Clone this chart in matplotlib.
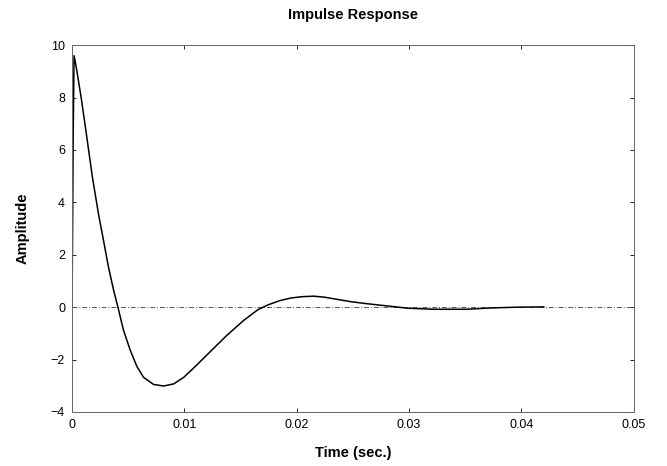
import matplotlib
matplotlib.use("Agg")
import matplotlib.pyplot as plt

# values
time = [0, 0.00005, 0.0001, 0.00018, 0.0004, 0.00083, 0.00128, 0.0018,
        0.00235, 0.0028, 0.00324, 0.0037, 0.00408, 0.00458, 0.00518,
        0.00578, 0.00637, 0.00726, 0.00815, 0.00905, 0.00994, 0.0111,
        0.0123, 0.0138, 0.0153, 0.0165, 0.0174, 0.0185, 0.0195, 0.0205,
        0.0215, 0.0225, 0.0233, 0.0248, 0.0263, 0.0284, 0.0299, 0.0322,
        0.0352, 0.0373, 0.0397, 0.0420]
amplitude = [0, 3.0, 6.5, 9.6, 9.1, 7.95, 6.6, 5.0,
             3.57, 2.55, 1.54, 0.65, 0.01, -0.88, -1.64,
             -2.27, -2.68, -2.95, -3.01, -2.93, -2.68, -2.21,
             -1.70, -1.07, -0.50, -0.11, 0.08, 0.25, 0.35, 0.40,
             0.42, 0.38, 0.32, 0.21, 0.13, 0.03, -0.04, -0.08,
             -0.08, -0.03, 0.0, 0.01]

xticks = [0, 0.01, 0.02, 0.03, 0.04, 0.05]
xticklabels = ["0", "0.01", "0.02", "0.03", "0.04", "0.05"]
yticks = [-4, -2, 0, 2, 4, 6, 8, 10]

plt.rcParams["font.family"] = ["Liberation Sans", "DejaVu Sans"]

fig = plt.figure(figsize=(6.67, 4.66), dpi=100)
ax = fig.add_axes([0.108, 0.116, 0.842, 0.787])

ax.axhline(0, color="#555555", linewidth=0.7, linestyle=(0, (5, 2, 1, 2)))
ax.plot(time, amplitude, color="black", linewidth=1.1)

ax.set_xlim(0, 0.05)
ax.set_ylim(-4, 10)
ax.set_xticks(xticks)
ax.set_xticklabels(xticklabels)
ax.set_yticks(yticks)
ax.tick_params(direction="in", length=3, width=0.6, labelsize=9,
               top=True, right=True, pad=5, colors="black")

for s in ax.spines.values():
    s.set_linewidth(0.7)
    s.set_color("#666666")
    s.set_linestyle((0, (3, 1)))

ax.set_title("Impulse Response", fontsize=10.5, fontweight="bold", pad=19)
ax.set_xlabel("Time (sec.)", fontsize=10.5, fontweight="bold", labelpad=11)
ax.set_ylabel("Amplitude", fontsize=10.5, fontweight="bold", labelpad=15)

fig.savefig("out.png", dpi=100)
